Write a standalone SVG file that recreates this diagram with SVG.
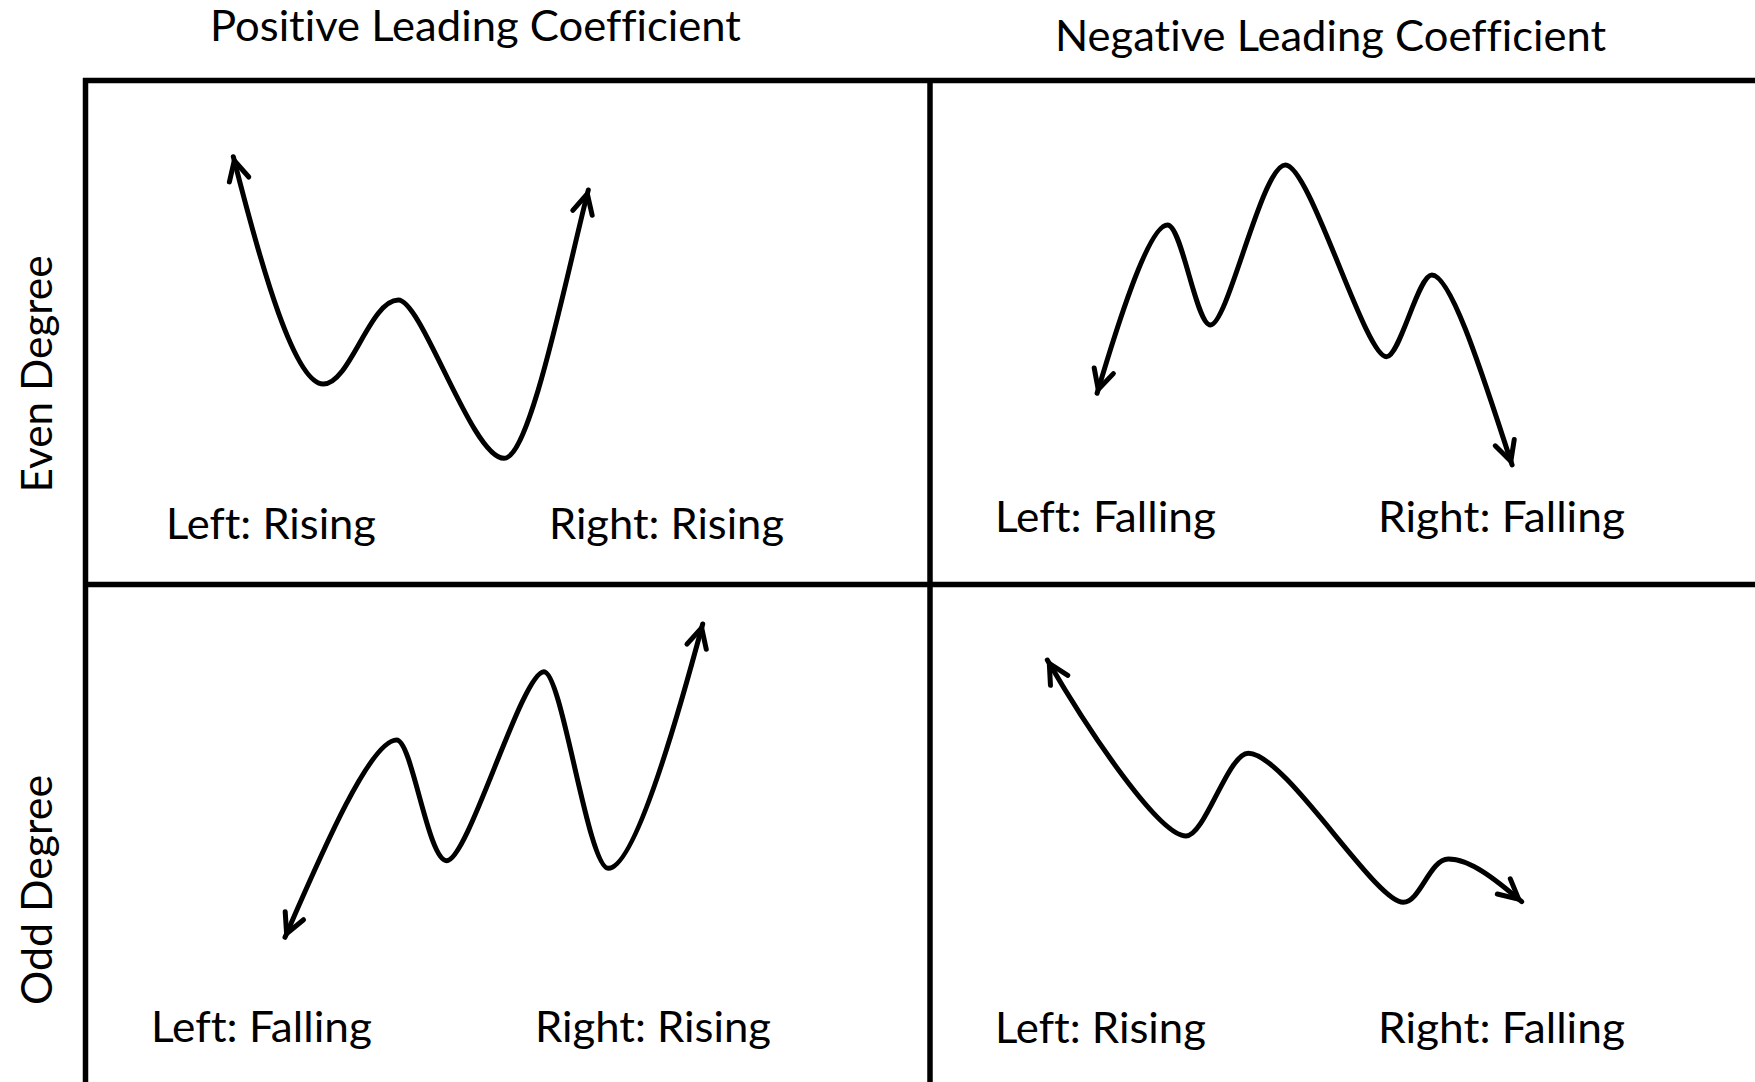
<svg xmlns="http://www.w3.org/2000/svg" width="1755" height="1082" viewBox="0 0 1755 1082">
  <style>
    .lbl { font-family: Lato, "Open Sans", "Liberation Sans", sans-serif; font-size: 43px; fill: #000; font-variant-ligatures: none; font-feature-settings: "liga" 0, "dlig" 0; }
    .grid { stroke: #000; stroke-width: 5.5; fill: none; }
    .curve { stroke: #000; stroke-width: 5; fill: none; stroke-linecap: round; marker-start: url(#arr); marker-end: url(#arr); }
  </style>
  <defs>
    <marker id="arr" viewBox="-28 -16 34 32" refX="0" refY="0" markerWidth="34" markerHeight="32" markerUnits="userSpaceOnUse" orient="auto-start-reverse" overflow="visible">
      <path d="M-23.5,-10 L-4,0 L-23.5,10" fill="none" stroke="#000" stroke-width="5" stroke-linecap="round" stroke-linejoin="miter"/>
    </marker>
  </defs>
  <rect width="1755" height="1082" fill="#fff"/>

  <g id="grid">
    <line class="grid" x1="83" y1="80.5" x2="1755" y2="80.5"/>
    <line class="grid" x1="85.5" y1="78" x2="85.5" y2="1082"/>
    <line class="grid" x1="930" y1="78" x2="930" y2="1082"/>
    <line class="grid" x1="85.5" y1="584.5" x2="1755" y2="584.5"/>
  </g>

  <g id="headers">
    <text id="col-positive" class="lbl" x="210" y="41" textLength="531" lengthAdjust="spacingAndGlyphs">Positive Leading Coefficient</text>
    <text id="col-negative" class="lbl" x="1055" y="51" textLength="551" lengthAdjust="spacingAndGlyphs">Negative Leading Coefficient</text>
    <text id="row-even" class="lbl" text-anchor="middle" transform="translate(52,374) rotate(-90)" textLength="237" lengthAdjust="spacingAndGlyphs">Even Degree</text>
    <text id="row-odd" class="lbl" text-anchor="middle" transform="translate(52,890) rotate(-90)" textLength="230" lengthAdjust="spacingAndGlyphs">Odd Degree</text>
  </g>

  <g id="q-even-positive">
    <text class="lbl" x="166" y="539" textLength="210" lengthAdjust="spacingAndGlyphs">Left: Rising</text>
    <text class="lbl" x="549" y="539" textLength="235" lengthAdjust="spacingAndGlyphs">Right: Rising</text>
  </g>
  <g id="q-even-negative">
    <text class="lbl" x="995" y="532" textLength="221" lengthAdjust="spacingAndGlyphs">Left: Falling</text>
    <text class="lbl" x="1378" y="532" textLength="247" lengthAdjust="spacingAndGlyphs">Right: Falling</text>
  </g>
  <g id="q-odd-positive">
    <text class="lbl" x="151" y="1042" textLength="221" lengthAdjust="spacingAndGlyphs">Left: Falling</text>
    <text class="lbl" x="535" y="1042" textLength="236" lengthAdjust="spacingAndGlyphs">Right: Rising</text>
  </g>
  <g id="q-odd-negative">
    <text class="lbl" x="995" y="1043" textLength="211" lengthAdjust="spacingAndGlyphs">Left: Rising</text>
    <text class="lbl" x="1378" y="1043" textLength="247" lengthAdjust="spacingAndGlyphs">Right: Falling</text>
  </g>

  <g id="connectors">
    <path id="curve-even-positive" class="curve" d="M233.3,156.7 C262,270 295,384 323.3,384 C350,384 370,300 398.3,300 C422,300 472,458.3 504,458.3 C530,458.3 565.3,280 588.3,190"/>
    <path id="curve-even-negative" class="curve" d="M1097.1,393.3 C1115,333 1148,225 1167.5,225 C1182,225 1196,325 1210.4,325 C1228,325 1262,165 1285.4,165 C1310,165 1365,356.7 1386.4,356.7 C1400,356.7 1418,275 1431.8,275 C1452,275 1485.7,385 1512.1,465"/>
    <path id="curve-odd-positive" class="curve" d="M285,937.3 C321,854.5 370,740 396.7,740 C412,740 428,860.7 446.7,860.7 C468,860.7 522,671.7 544,671.7 C562,671.7 588,868.3 608.3,868.3 C635,868.3 679.3,711.3 702.7,624"/>
    <path id="curve-odd-negative" class="curve" d="M1047.3,660 C1092.3,737.4 1160,836 1186,836 C1205,836 1228,753.3 1248.3,753.3 C1285,753.3 1375,902.3 1403.3,902.3 C1420,902.3 1430,859 1448.3,859 C1470,859 1495.1,879 1521.7,901.7"/>
  </g>
</svg>
